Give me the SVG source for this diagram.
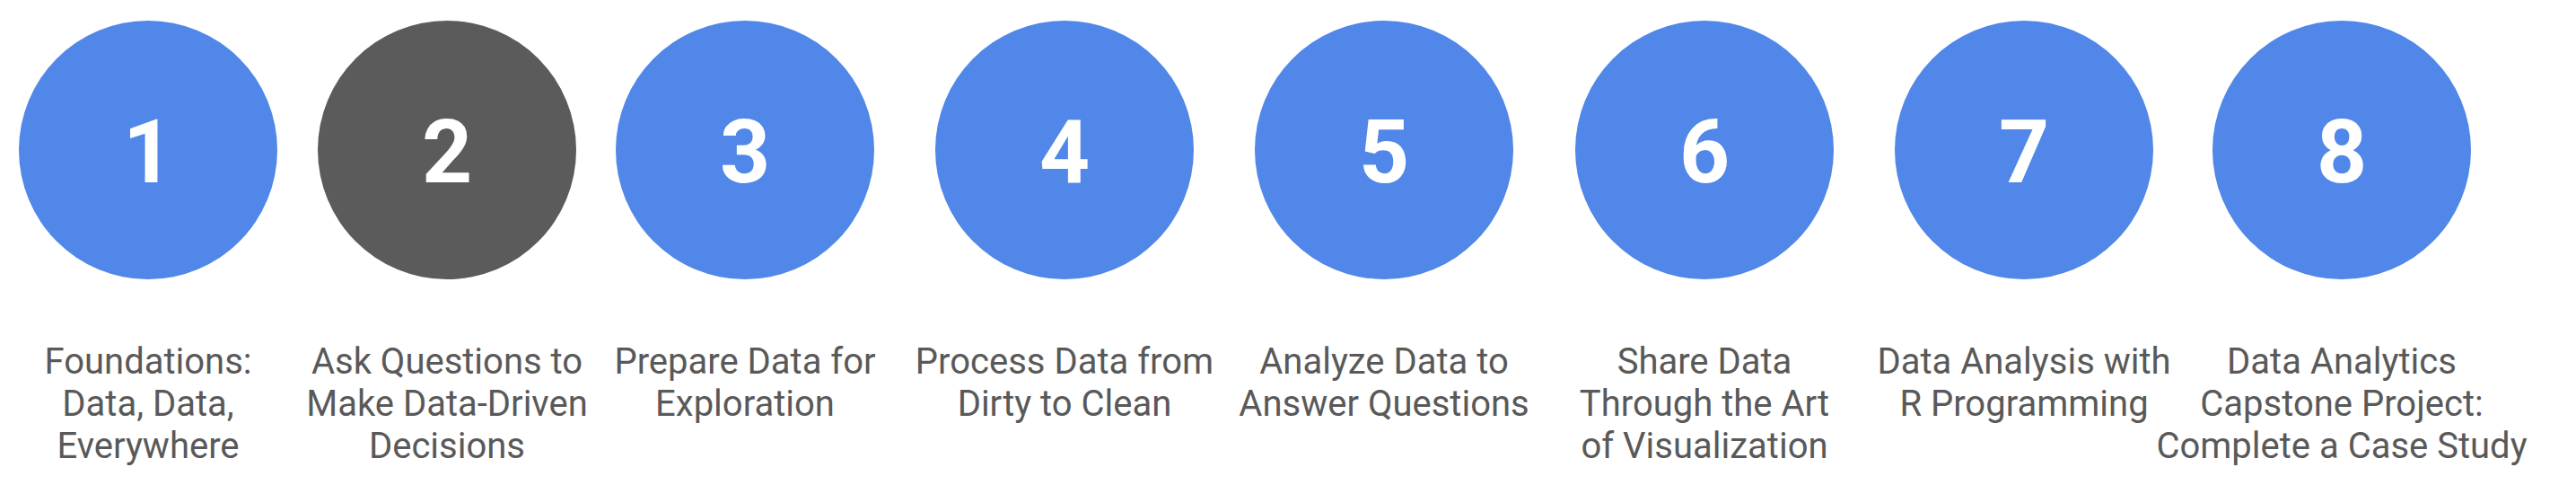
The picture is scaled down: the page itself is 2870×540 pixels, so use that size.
<svg xmlns="http://www.w3.org/2000/svg" width="2870" height="540" viewBox="0 0 2870 540">
<style>
.c{fill:#5087E8}
.d{fill:#5B5B5B}
.n{font-family:Roboto,"Liberation Sans",sans-serif;font-weight:700;font-size:98px;fill:#FFFFFF;text-anchor:middle}
.l{font-family:Roboto,"Liberation Sans",sans-serif;font-size:40px;fill:#595959;text-anchor:middle}
</style>
<rect width="2870" height="540" fill="#FFFFFF"/>
<g id="node1"><circle class="c" cx="165" cy="167" r="144"/><text class="n" x="165" y="203">1</text>
<text class="l" x="165"><tspan x="165" y="416">Foundations:</tspan><tspan x="165" y="463">Data, Data,</tspan><tspan x="165" y="510">Everywhere</tspan></text></g>
<g id="node2"><circle class="d" cx="498" cy="167" r="144"/><text class="n" x="498" y="203">2</text>
<text class="l" x="498"><tspan x="498" y="416">Ask Questions to</tspan><tspan x="498" y="463">Make Data-Driven</tspan><tspan x="498" y="510">Decisions</tspan></text></g>
<g id="node3"><circle class="c" cx="830" cy="167" r="144"/><text class="n" x="830" y="203">3</text>
<text class="l" x="830"><tspan x="830" y="416">Prepare Data for</tspan><tspan x="830" y="463">Exploration</tspan></text></g>
<g id="node4"><circle class="c" cx="1186" cy="167" r="144"/><text class="n" x="1186" y="203">4</text>
<text class="l" x="1186"><tspan x="1186" y="416">Process Data from</tspan><tspan x="1186" y="463">Dirty to Clean</tspan></text></g>
<g id="node5"><circle class="c" cx="1542" cy="167" r="144"/><text class="n" x="1542" y="203">5</text>
<text class="l" x="1542"><tspan x="1542" y="416">Analyze Data to</tspan><tspan x="1542" y="463">Answer Questions</tspan></text></g>
<g id="node6"><circle class="c" cx="1899" cy="167" r="144"/><text class="n" x="1899" y="203">6</text>
<text class="l" x="1899"><tspan x="1899" y="416">Share Data</tspan><tspan x="1899" y="463">Through the Art</tspan><tspan x="1899" y="510">of Visualization</tspan></text></g>
<g id="node7"><circle class="c" cx="2255" cy="167" r="144"/><text class="n" x="2255" y="203">7</text>
<text class="l" x="2255"><tspan x="2255" y="416">Data Analysis with</tspan><tspan x="2255" y="463">R Programming</tspan></text></g>
<g id="node8"><circle class="c" cx="2609" cy="167" r="144"/><text class="n" x="2609" y="203">8</text>
<text class="l" x="2609"><tspan x="2609" y="416">Data Analytics</tspan><tspan x="2609" y="463">Capstone Project:</tspan><tspan x="2609" y="510">Complete a Case Study</tspan></text></g>
<g id="connectors"></g>
</svg>
